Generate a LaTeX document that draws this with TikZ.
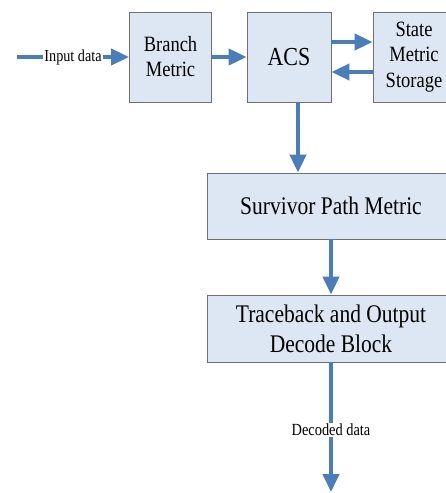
\documentclass[tikz,border=0pt]{standalone}
\usepackage{fontspec}
\usepackage{graphicx}
\setmainfont{Liberation Serif}
\usetikzlibrary{arrows.meta,calc}
\definecolor{arrowblue}{HTML}{4A7EBB}
\definecolor{boxfill}{HTML}{DDE7F3}
\definecolor{boxline}{HTML}{707070}
\newcommand{\vstr}[1]{\scalebox{1}[1.18]{#1}}
\begin{document}
\begin{tikzpicture}[x=1pt,y=-1pt,
  blk/.style={draw=boxline,fill=boxfill,line width=0.8pt,inner sep=0pt,align=center,anchor=center},
  arr/.style={draw=arrowblue,line width=4pt,-{Triangle[length=18pt,width=16pt]}},
  lbl/.style={fill=white,inner sep=1pt}]
\useasboundingbox (0,0) rectangle (446,493);
\fill[white] (0,0) rectangle (446,493);
\node[blk,minimum width=82pt,minimum height=90pt,font=\fontsize{18.5}{25}\selectfont] (bm) at (170.5,57) {\vstr{Branch}\\\vstr{Metric}};
\node[blk,minimum width=84pt,minimum height=90pt,font=\fontsize{22}{26}\selectfont] (acs) at (289,57) {\vstr{ACS}};
\node[blk,minimum width=82pt,minimum height=90pt,font=\fontsize{18.5}{25.5}\selectfont] (sms) at (414,57) {\vstr{State}\\\vstr{Metric}\\\vstr{Storage}};
\node[blk,minimum width=248pt,minimum height=66pt,font=\fontsize{21.5}{30}\selectfont] (spm) at (331,206) {\vstr{Survivor Path Metric}};
\node[blk,minimum width=248pt,minimum height=67pt,font=\fontsize{21.5}{30}\selectfont] (tb) at (331,328.5) {\vstr{Traceback and Output}\\\vstr{Decode Block}};
\coordinate (in) at (17,57);
\coordinate (out) at (331,492);
\coordinate (ad) at (298,102);
\draw[arr] (in) -- node[lbl,font=\fontsize{14.2}{16}\selectfont]{\vstr{Input data}} (bm.west);
\draw[arr] (bm.east) -- (acs.west);
\draw[arr] ($(acs.east)+(0,-15)$) -- ($(sms.west)+(0,-15)$);
\draw[arr] ($(sms.west)+(0,15)$) -- ($(acs.east)+(0,15)$);
\draw[arr] (ad) -- (ad |- spm.north);
\draw[arr] (spm.south) -- (tb.north);
\draw[arr] (tb.south) -- node[lbl,pos=0.52,font=\fontsize{14.4}{16}\selectfont]{\vstr{Decoded data}} (out);
\end{tikzpicture}
\end{document}
